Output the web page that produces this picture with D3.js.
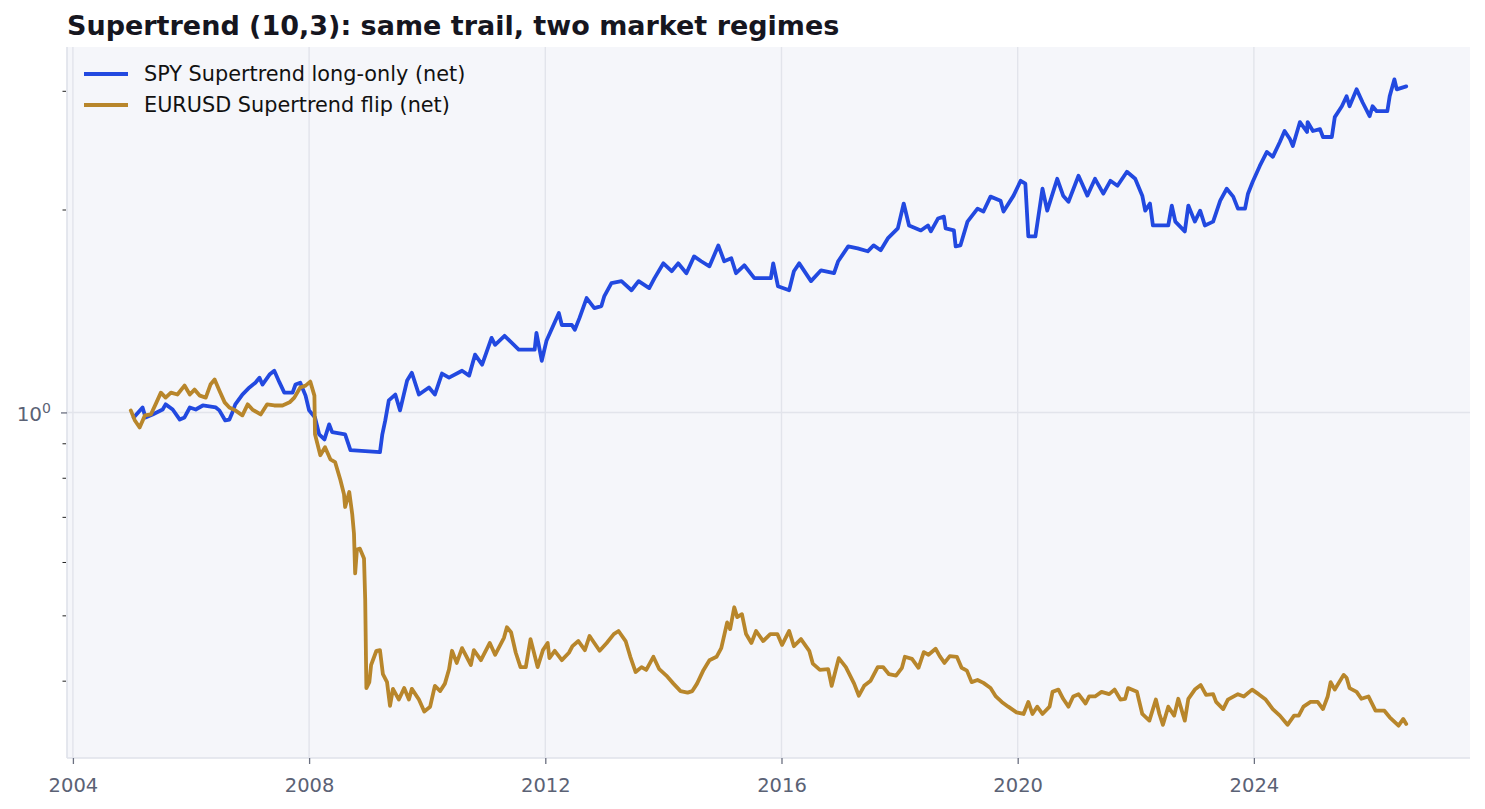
<!DOCTYPE html>
<html>
<head>
<meta charset="utf-8">
<script src="https://cdn.jsdelivr.net/npm/d3@7"></script>
<style>
  html, body { margin: 0; padding: 0; background: #fff; }
  svg { display: block; font-family: "DejaVu Sans", sans-serif; }
</style>
</head>
<body>
<svg id="chart" width="1485" height="809"></svg>
<script>
// ── Supertrend (10,3) equity curves, log scale ──
// Values (growth of 1 unit, net of costs).

const title = 'Supertrend (10,3): same trail, two market regimes';
const seriesNames = ['SPY Supertrend long-only (net)', 'EURUSD Supertrend flip (net)'];
const seriesColors = ['#2249e0', '#b8862b'];
const xTicks = [2004, 2008, 2012, 2016, 2020, 2024];
const yMajorTicks = [1];
const yMinorTicks = [0.3, 0.4, 0.5, 0.6, 0.7, 0.8, 0.9, 2, 3, 4];

const spyYears = [
  2005.03, 2005.18, 2005.23, 2005.35, 2005.52, 2005.57, 2005.69, 2005.81, 2005.89, 2005.98,
  2006.08, 2006.20, 2006.42, 2006.48, 2006.58, 2006.65, 2006.70, 2006.75, 2006.87, 2006.99,
  2007.09, 2007.16, 2007.21, 2007.33, 2007.41, 2007.50, 2007.58, 2007.72, 2007.77, 2007.85,
  2007.94, 2008.00, 2008.10, 2008.17, 2008.26, 2008.34, 2008.39, 2008.61, 2008.70, 2009.20,
  2009.24, 2009.29, 2009.35, 2009.46, 2009.54, 2009.66, 2009.74, 2009.86, 2010.03, 2010.13,
  2010.25, 2010.37, 2010.59, 2010.71, 2010.81, 2010.93, 2011.09, 2011.15, 2011.31, 2011.55,
  2011.82, 2011.85, 2011.94, 2012.02, 2012.23, 2012.28, 2012.45, 2012.50, 2012.58, 2012.70,
  2012.83, 2012.95, 2013.00, 2013.12, 2013.29, 2013.46, 2013.58, 2013.76, 2013.85, 2014.00,
  2014.14, 2014.25, 2014.39, 2014.52, 2014.64, 2014.78, 2014.93, 2015.03, 2015.15, 2015.23,
  2015.37, 2015.54, 2015.82, 2015.86, 2015.94, 2016.13, 2016.21, 2016.30, 2016.50, 2016.67,
  2016.89, 2016.96, 2017.13, 2017.29, 2017.46, 2017.56, 2017.68, 2017.80, 2017.97, 2018.07,
  2018.16, 2018.36, 2018.48, 2018.53, 2018.65, 2018.75, 2018.78, 2018.92, 2018.95, 2019.03,
  2019.15, 2019.32, 2019.42, 2019.54, 2019.71, 2019.76, 2019.93, 2020.05, 2020.13, 2020.18,
  2020.30, 2020.42, 2020.50, 2020.67, 2020.77, 2020.86, 2021.03, 2021.18, 2021.31, 2021.45,
  2021.57, 2021.69, 2021.85, 2021.99, 2022.11, 2022.16, 2022.24, 2022.29, 2022.55, 2022.61,
  2022.67, 2022.83, 2022.89, 2023.00, 2023.09, 2023.17, 2023.31, 2023.43, 2023.54, 2023.65,
  2023.73, 2023.85, 2023.90, 2023.98, 2024.10, 2024.22, 2024.32, 2024.44, 2024.52, 2024.61,
  2024.66, 2024.78, 2024.90, 2024.91, 2025.00, 2025.12, 2025.17, 2025.32, 2025.37, 2025.49,
  2025.57, 2025.62, 2025.74, 2025.84, 2025.96, 2026.01, 2026.08, 2026.26, 2026.30, 2026.38,
  2026.42, 2026.58
];
const spyValues = [
  0.983, 1.017, 0.983, 0.993, 1.010, 1.028, 1.010, 0.976, 0.983, 1.017,
  1.010, 1.024, 1.017, 1.007, 0.973, 0.976, 1.000, 1.028, 1.063, 1.089,
  1.107, 1.126, 1.100, 1.138, 1.153, 1.107, 1.070, 1.070, 1.100, 1.107,
  1.059, 1.007, 0.983, 0.928, 0.912, 0.960, 0.935, 0.928, 0.879, 0.873,
  0.928, 0.973, 1.042, 1.063, 1.007, 1.115, 1.145, 1.063, 1.089, 1.063,
  1.142, 1.126, 1.153, 1.134, 1.218, 1.177, 1.290, 1.260, 1.299, 1.239,
  1.239, 1.312, 1.193, 1.277, 1.404, 1.348, 1.348, 1.326, 1.381, 1.478,
  1.428, 1.438, 1.488, 1.555, 1.566, 1.518, 1.566, 1.529, 1.582, 1.664,
  1.620, 1.664, 1.609, 1.704, 1.676, 1.647, 1.769, 1.676, 1.693, 1.609,
  1.653, 1.582, 1.582, 1.664, 1.539, 1.518, 1.620, 1.664, 1.566, 1.625,
  1.609, 1.676, 1.763, 1.751, 1.734, 1.769, 1.740, 1.812, 1.875, 2.041,
  1.894, 1.862, 1.894, 1.856, 1.939, 1.952, 1.875, 1.862, 1.763, 1.769,
  1.919, 2.006, 1.986, 2.090, 2.061, 1.986, 2.097, 2.206, 2.184, 1.824,
  1.824, 2.147, 1.992, 2.221, 2.097, 2.054, 2.244, 2.097, 2.221, 2.111,
  2.206, 2.169, 2.275, 2.221, 2.097, 1.992, 2.041, 1.894, 1.894, 2.027,
  1.919, 1.856, 2.027, 1.919, 1.992, 1.894, 1.919, 2.061, 2.147, 2.090,
  2.006, 2.006, 2.111, 2.199, 2.321, 2.435, 2.394, 2.519, 2.615, 2.544,
  2.485, 2.696, 2.606, 2.696, 2.615, 2.632, 2.562, 2.562, 2.742, 2.846,
  2.945, 2.846, 3.015, 2.885, 2.751, 2.846, 2.798, 2.798, 2.945, 3.120,
  3.015, 3.046
];

const fxYears = [
  2004.98, 2005.05, 2005.13, 2005.22, 2005.32, 2005.40, 2005.49, 2005.57, 2005.66, 2005.77,
  2005.89, 2005.98, 2006.06, 2006.15, 2006.25, 2006.33, 2006.40, 2006.48, 2006.57, 2006.65,
  2006.75, 2006.87, 2006.96, 2007.04, 2007.18, 2007.29, 2007.41, 2007.55, 2007.67, 2007.75,
  2007.85, 2007.94, 2008.02, 2008.09, 2008.10, 2008.19, 2008.27, 2008.36, 2008.44, 2008.53,
  2008.59, 2008.61, 2008.68, 2008.73, 2008.76, 2008.78, 2008.81, 2008.86, 2008.93, 2008.95,
  2008.97, 2009.02, 2009.05, 2009.14, 2009.20, 2009.25, 2009.32, 2009.37, 2009.42, 2009.52,
  2009.61, 2009.69, 2009.74, 2009.86, 2009.95, 2010.05, 2010.13, 2010.22, 2010.30, 2010.37,
  2010.42, 2010.50, 2010.59, 2010.74, 2010.79, 2010.91, 2011.06, 2011.15, 2011.30, 2011.35,
  2011.42, 2011.50, 2011.58, 2011.67, 2011.75, 2011.87, 2011.96, 2012.04, 2012.07, 2012.16,
  2012.28, 2012.40, 2012.46, 2012.56, 2012.67, 2012.75, 2012.83, 2012.92, 2013.04, 2013.16,
  2013.24, 2013.36, 2013.44, 2013.53, 2013.63, 2013.71, 2013.83, 2013.93, 2014.05, 2014.17,
  2014.29, 2014.41, 2014.49, 2014.57, 2014.68, 2014.78, 2014.90, 2014.98, 2015.08, 2015.13,
  2015.20, 2015.25, 2015.33, 2015.40, 2015.49, 2015.57, 2015.69, 2015.81, 2015.93, 2016.01,
  2016.13, 2016.21, 2016.33, 2016.47, 2016.53, 2016.65, 2016.79, 2016.85, 2016.97, 2017.09,
  2017.23, 2017.31, 2017.40, 2017.51, 2017.63, 2017.72, 2017.82, 2017.94, 2018.04, 2018.09,
  2018.21, 2018.32, 2018.41, 2018.49, 2018.61, 2018.68, 2018.76, 2018.85, 2018.97, 2019.05,
  2019.14, 2019.22, 2019.32, 2019.42, 2019.54, 2019.63, 2019.73, 2019.84, 2019.98, 2020.10,
  2020.18, 2020.25, 2020.33, 2020.42, 2020.54, 2020.59, 2020.69, 2020.77, 2020.86, 2020.94,
  2021.03, 2021.15, 2021.21, 2021.31, 2021.42, 2021.55, 2021.64, 2021.74, 2021.82, 2021.87,
  2022.02, 2022.11, 2022.23, 2022.34, 2022.40, 2022.46, 2022.55, 2022.65, 2022.72, 2022.83,
  2022.89, 2023.00, 2023.10, 2023.19, 2023.31, 2023.36, 2023.48, 2023.56, 2023.73, 2023.83,
  2023.97, 2024.08, 2024.20, 2024.32, 2024.44, 2024.57, 2024.68, 2024.76, 2024.84, 2024.96,
  2025.08, 2025.17, 2025.25, 2025.30, 2025.37, 2025.52, 2025.57, 2025.62, 2025.74, 2025.82,
  2025.94, 2026.06, 2026.21, 2026.30, 2026.45, 2026.53, 2026.58
];
const fxValues = [
  1.007, 0.973, 0.950, 0.990, 0.993, 1.028, 1.070, 1.052, 1.070, 1.063,
  1.096, 1.063, 1.081, 1.059, 1.052, 1.100, 1.119, 1.078, 1.035, 1.017,
  1.007, 0.990, 1.028, 1.010, 0.993, 1.028, 1.024, 1.024, 1.035, 1.052,
  1.089, 1.096, 1.111, 1.059, 0.928, 0.864, 0.888, 0.852, 0.844, 0.794,
  0.757, 0.724, 0.762, 0.707, 0.661, 0.577, 0.626, 0.628, 0.607, 0.528,
  0.390, 0.398, 0.422, 0.443, 0.444, 0.409, 0.398, 0.367, 0.389, 0.375,
  0.390, 0.375, 0.389, 0.375, 0.360, 0.366, 0.393, 0.386, 0.396, 0.416,
  0.443, 0.425, 0.447, 0.422, 0.444, 0.429, 0.455, 0.437, 0.463, 0.480,
  0.472, 0.440, 0.419, 0.419, 0.461, 0.419, 0.444, 0.455, 0.432, 0.443,
  0.429, 0.440, 0.450, 0.458, 0.444, 0.466, 0.455, 0.443, 0.455, 0.469,
  0.474, 0.458, 0.434, 0.412, 0.419, 0.415, 0.434, 0.416, 0.407, 0.396,
  0.386, 0.384, 0.386, 0.396, 0.415, 0.429, 0.434, 0.447, 0.488, 0.477,
  0.514, 0.497, 0.502, 0.469, 0.455, 0.474, 0.458, 0.469, 0.469, 0.452,
  0.474, 0.450, 0.461, 0.443, 0.424, 0.415, 0.416, 0.393, 0.432, 0.419,
  0.396, 0.380, 0.393, 0.400, 0.419, 0.419, 0.409, 0.407, 0.418, 0.434,
  0.431, 0.418, 0.441, 0.437, 0.446, 0.435, 0.425, 0.435, 0.434, 0.418,
  0.414, 0.398, 0.401, 0.397, 0.390, 0.379, 0.372, 0.366, 0.359, 0.357,
  0.372, 0.357, 0.366, 0.357, 0.366, 0.385, 0.388, 0.376, 0.366, 0.379,
  0.382, 0.370, 0.379, 0.379, 0.385, 0.382, 0.388, 0.375, 0.376, 0.390,
  0.385, 0.357, 0.349, 0.375, 0.357, 0.344, 0.366, 0.355, 0.376, 0.349,
  0.376, 0.388, 0.394, 0.381, 0.382, 0.372, 0.363, 0.375, 0.382, 0.379,
  0.388, 0.382, 0.375, 0.363, 0.355, 0.344, 0.355, 0.355, 0.366, 0.372,
  0.372, 0.363, 0.379, 0.398, 0.388, 0.408, 0.404, 0.390, 0.385, 0.376,
  0.379, 0.361, 0.361, 0.353, 0.343, 0.351, 0.345
];

// ── Layout ──
const W = 1485, H = 809;
const margin = { top: 47, right: 15, bottom: 51, left: 67 };
const plotW = W - margin.left - margin.right;
const plotH = H - margin.top - margin.bottom;

const svg = d3.select('#chart');

const series = [
  { name: seriesNames[0], color: seriesColors[0], pts: spyYears.map((t, i) => [t, spyValues[i]]) },
  { name: seriesNames[1], color: seriesColors[1], pts: fxYears.map((t, i) => [t, fxValues[i]]) },
];

// 5% padding like matplotlib autoscale (log space for y)
const allT = spyYears.concat(fxYears);
const allV = spyValues.concat(fxValues);
const [t0, t1] = d3.extent(allT);
const padT = (t1 - t0) * 0.05;
const [lv0, lv1] = d3.extent(allV).map(Math.log10);
const padV = (lv1 - lv0) * 0.05;

const x = d3.scaleLinear()
  .domain([t0 - padT, t1 + padT])
  .range([margin.left, margin.left + plotW]);

const y = d3.scaleLog()
  .domain([Math.pow(10, lv0 - padV), Math.pow(10, lv1 + padV)])
  .range([margin.top + plotH, margin.top]);

// plot background
svg.append('rect')
  .attr('x', margin.left).attr('y', margin.top)
  .attr('width', plotW).attr('height', plotH)
  .attr('fill', '#f5f6fa');

// grid
const grid = svg.append('g').attr('stroke', '#e2e4eb').attr('stroke-width', 1.4);
xTicks.forEach(t => {
  grid.append('line')
    .attr('x1', x(t)).attr('x2', x(t))
    .attr('y1', margin.top).attr('y2', margin.top + plotH);
});
yMajorTicks.forEach(v => {
  grid.append('line')
    .attr('x1', margin.left).attr('x2', margin.left + plotW)
    .attr('y1', y(v)).attr('y2', y(v));
});

// spines (left + bottom)
svg.append('line')
  .attr('x1', margin.left).attr('x2', margin.left)
  .attr('y1', margin.top).attr('y2', margin.top + plotH)
  .attr('stroke', '#dfe2ea').attr('stroke-width', 1.6);
svg.append('line')
  .attr('x1', margin.left).attr('x2', margin.left + plotW)
  .attr('y1', margin.top + plotH).attr('y2', margin.top + plotH)
  .attr('stroke', '#dfe2ea').attr('stroke-width', 1.6);

// x axis
const xAxis = d3.axisBottom(x)
  .tickValues(xTicks)
  .tickFormat(d3.format('d'))
  .tickSize(6)
  .tickPadding(14);

const gx = svg.append('g')
  .attr('transform', `translate(0,${margin.top + plotH})`)
  .call(xAxis);
gx.select('.domain').remove();
gx.selectAll('.tick line').attr('stroke', '#6b7080').attr('stroke-width', 1.3);
gx.selectAll('.tick text')
  .attr('fill', '#5b6275')
  .attr('font-size', 19.5)
  .attr('font-family', '"DejaVu Sans", sans-serif');

// y axis: major (labelled, 10^0) and minor ticks
const yAxis = d3.axisLeft(y)
  .tickValues(yMajorTicks)
  .tickFormat('')
  .tickSize(6);

const gy = svg.append('g')
  .attr('transform', `translate(${margin.left},0)`)
  .call(yAxis);
gy.select('.domain').remove();
gy.selectAll('.tick line').attr('stroke', '#6b7080').attr('stroke-width', 1.3);
gy.selectAll('.tick').each(function (d) {
  const label = d3.select(this).append('text')
    .attr('x', -16)
    .attr('y', 0)
    .attr('dy', '0.40em')
    .attr('text-anchor', 'end')
    .attr('fill', '#5b6275')
    .attr('font-size', 20)
    .attr('font-family', '"DejaVu Sans", sans-serif');
  label.append('tspan').text(String(Math.pow(10, 1)));
  label.append('tspan')
    .attr('font-size', 14)
    .attr('dy', '-0.55em')
    .text(String(Math.round(Math.log10(d))));
});

const [yLo, yHi] = y.domain();
const yMinorAxis = d3.axisLeft(y)
  .tickValues(yMinorTicks.filter(v => v >= yLo && v <= yHi))
  .tickFormat('')
  .tickSize(3.5);

const gyMinor = svg.append('g')
  .attr('transform', `translate(${margin.left - 1},0)`)
  .call(yMinorAxis);
gyMinor.select('.domain').remove();
gyMinor.selectAll('.tick line').attr('stroke', '#222').attr('stroke-width', 1);

// lines
const line = d3.line()
  .x(d => x(d[0]))
  .y(d => y(d[1]));

svg.append('clipPath').attr('id', 'plot-clip')
  .append('rect')
  .attr('x', margin.left).attr('y', margin.top)
  .attr('width', plotW).attr('height', plotH);

const lines = svg.append('g').attr('clip-path', 'url(#plot-clip)');
series.forEach(s => {
  lines.append('path')
    .datum(s.pts)
    .attr('fill', 'none')
    .attr('stroke', s.color)
    .attr('stroke-width', 3.8)
    .attr('stroke-linejoin', 'round')
    .attr('stroke-linecap', 'round')
    .attr('d', line);
});

// legend (top-left inside plot)
const legend = svg.append('g')
  .attr('transform', `translate(${margin.left + 17},${margin.top + 27})`);
series.forEach((s, i) => {
  const row = legend.append('g').attr('transform', `translate(0,${i * 31})`);
  row.append('line')
    .attr('x1', 0).attr('x2', 44)
    .attr('y1', 0).attr('y2', 0)
    .attr('stroke', s.color)
    .attr('stroke-width', 3.8);
  row.append('text')
    .attr('x', 60).attr('y', 0)
    .attr('dy', '0.35em')
    .attr('font-size', 20.8)
    .attr('fill', '#111')
    .text(s.name);
});

// title
svg.append('text')
  .attr('x', margin.left)
  .attr('y', 35)
  .attr('font-size', 27)
  .attr('font-weight', 'bold')
  .attr('fill', '#16161f')
  .text(title);
</script>
</body>
</html>
